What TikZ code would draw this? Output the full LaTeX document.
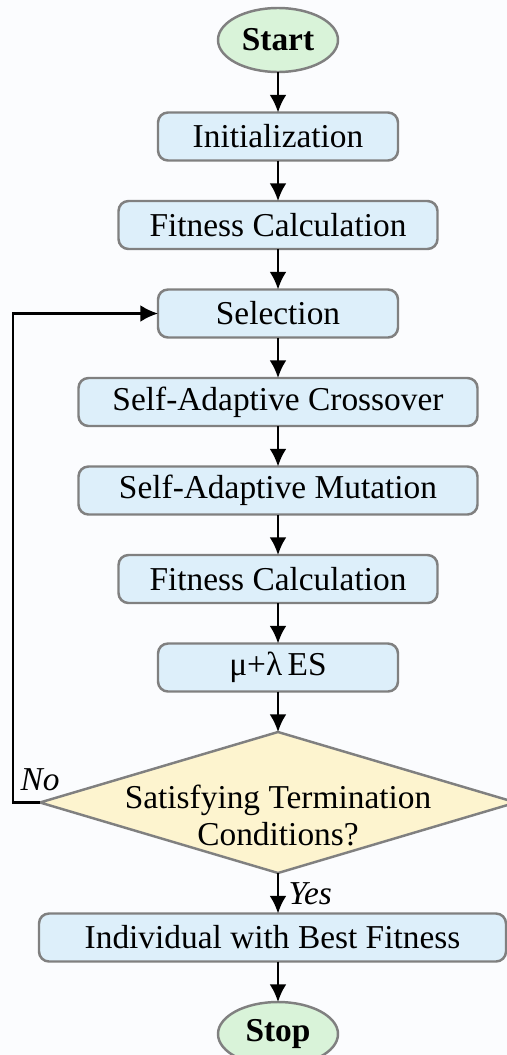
\documentclass[tikz,border=0pt]{standalone}
\usepackage{fontspec}
\setmainfont{Liberation Serif}
\usetikzlibrary{arrows.meta,positioning,shapes.geometric}

\definecolor{boxblue}{HTML}{DDEFFA}
\definecolor{termgreen}{HTML}{D9F3D9}
\definecolor{decyellow}{HTML}{FDF4CF}
\definecolor{edgegray}{HTML}{808080}
\definecolor{bgpaper}{HTML}{FBFCFE}

\begin{document}
\begin{tikzpicture}[
  font=\fontsize{19}{21}\selectfont,
  >={Latex[length=10pt,width=9.5pt]},
  flow/.style={->, line width=1.3pt, black},
  box/.style={draw=edgegray, line width=1.4pt, rounded corners=0.2cm,
    fill=boxblue, minimum height=0.96cm, inner sep=0pt, outer sep=0pt},
  term/.style={ellipse, draw=edgegray, line width=1.4pt, fill=termgreen,
    minimum width=2.4cm, minimum height=1.28cm, inner sep=0pt, outer sep=0pt,
    font=\fontsize{19}{21}\selectfont\bfseries},
  decision/.style={diamond, draw=edgegray, line width=1.4pt, fill=decyellow,
    minimum width=9.52cm, minimum height=2.82cm, inner sep=0pt, outer sep=0pt},
  lbl/.style={font=\fontsize{19}{21}\selectfont\itshape}
]
  \fill[bgpaper] (0,0) rectangle (10.14,-21.1);
  \useasboundingbox (0,0) rectangle (10.14,-21.1);

  \node[term] (start) at (5.56,-0.8) {Start};
  \node[box, minimum width=4.8cm, below=0.81cm of start] (init) {Initialization};
  \node[box, minimum width=6.38cm, below=0.81cm of init] (fit1) {Fitness Calculation};
  \node[box, minimum width=4.8cm, below=0.81cm of fit1] (sel) {Selection};
  \node[box, minimum width=7.98cm, below=0.81cm of sel] (cross) {Self-Adaptive Crossover};
  \node[box, minimum width=7.98cm, below=0.81cm of cross] (mut) {Self-Adaptive Mutation};
  \node[box, minimum width=6.38cm, below=0.81cm of mut] (fit2) {Fitness Calculation};
  \node[box, minimum width=4.8cm, below=0.81cm of fit2] (es) {μ+λ\,ES};
  \node[decision, below=0.81cm of es] (check) {};
  \node[align=center] (checktext) at ([yshift=-0.26cm]check.center)
    {Satisfying Termination\\Conditions?};
  \node[box, minimum width=9.34cm, below=0.81cm of check, xshift=-0.11cm] (best)
    {Individual with Best Fitness};
  \node[term, below=0.81cm of best, xshift=0.11cm] (stop) {Stop};

  \draw[flow] (start) -- (init);
  \draw[flow] (init) -- (fit1);
  \draw[flow] (fit1) -- (sel);
  \draw[flow] (sel) -- (cross);
  \draw[flow] (cross) -- (mut);
  \draw[flow] (mut) -- (fit2);
  \draw[flow] (fit2) -- (es);
  \draw[flow] (es) -- (check);
  \draw[flow] (check.south) -- (check.south |- best.north)
    node[lbl, midway, right, xshift=2pt] (yes) {Yes};
  \draw[flow] (best.south -| stop.north) -- (stop.north);
  \draw[flow] (check.west) -- ++(-0.54,0) |- (sel.west);
  \node[lbl] (no) at ([yshift=0.46cm]check.west) {No};
\end{tikzpicture}
\end{document}
